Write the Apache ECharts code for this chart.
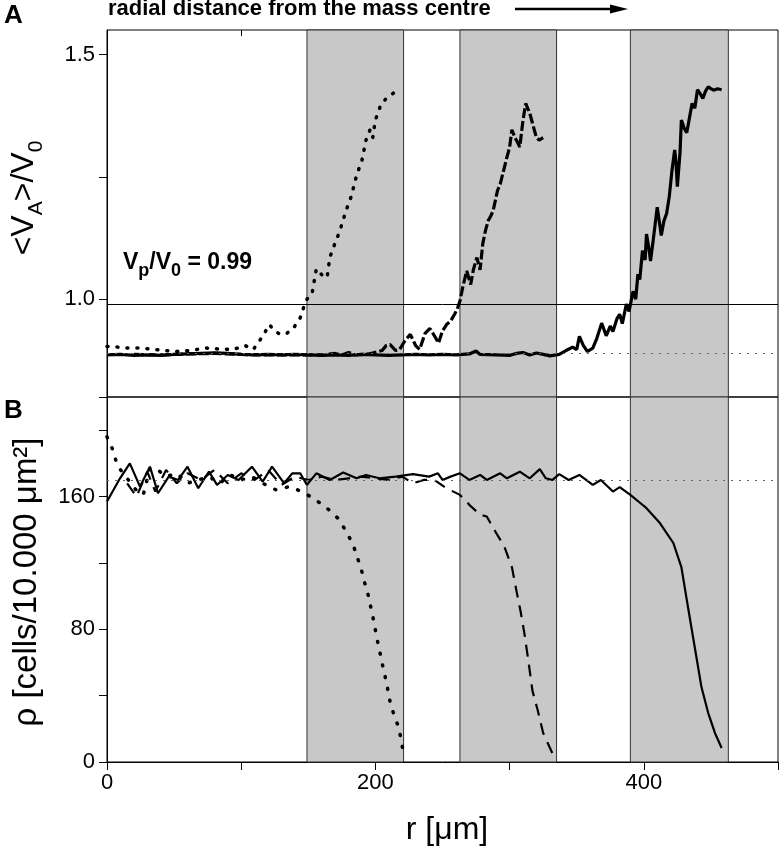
<!DOCTYPE html>
<html>
<head>
<meta charset="utf-8">
<script src="https://cdn.jsdelivr.net/npm/echarts@6/dist/echarts.min.js"></script>
<style>
html,body{margin:0;padding:0;background:#fff;}
#chart{width:782px;height:853px;}
</style>
</head>
<body>
<div id="chart"></div>
<script>
// ---- data (r in µm) ----
const bands = [[149, 221], [263, 335], [390, 463]];
const vpRatio = 0.99;          // Vp/V0 line in panel A
const vBaseline = 0.888;       // dotted reference in panel A
const rhoRef = 170;            // dotted reference in panel B

const xTicks = [0, 100, 200, 300, 400, 500];
const xLabels = [0, 200, 400];
const aTicks = [1.0, 1.25, 1.5];
const aLabels = [1.0, 1.5];
const bLabels = [0, 80, 160];

// Panel A : <V_A>/V0
const vSolid = [[0,0.886],[10,0.887],[20,0.885],[30,0.886],[40,0.885],[50,0.887],[60,0.888],[70,0.889],[80,0.890],[90,0.889],[100,0.887],[110,0.886],[120,0.887],[130,0.886],[140,0.887],[150,0.886],[160,0.885],[170,0.886],[180,0.885],[190,0.887],[200,0.886],[210,0.885],[220,0.886],[230,0.887],[240,0.886],[250,0.887],[260,0.886],[270,0.888],[275,0.894],[278,0.887],[290,0.886],[300,0.885],[305,0.889],[310,0.891],[315,0.886],[320,0.890],[325,0.887],[330,0.884],[337,0.887],[342,0.895],[347,0.902],[350,0.897],[352,0.924],[355,0.905],[358,0.893],[362,0.90],[365,0.92],[368.6,0.951],[372,0.925],[375,0.945],[377,0.934],[380,0.96],[382,0.969],[384,0.95],[387,0.99],[389,0.975],[392,1.016],[394,1.0],[395.6,1.051],[397,1.04],[399,1.099],[401,1.08],[402,1.133],[404,1.1],[405,1.078],[407,1.12],[410,1.188],[412,1.15],[413,1.13],[415,1.16],[417,1.175],[419,1.21],[421,1.263],[423,1.305],[424,1.28],[425,1.23],[427,1.30],[428,1.366],[430,1.35],[432,1.34],[434,1.37],[436,1.40],[438,1.39],[440,1.428],[442,1.42],[444,1.41],[446,1.425],[448,1.434],[450,1.43],[452,1.427],[455,1.43],[458,1.428]];
const vDashed = [[20,0.887],[40,0.886],[60,0.888],[80,0.889],[100,0.887],[120,0.886],[140,0.886],[160,0.886],[170,0.889],[175,0.886],[180,0.891],[185,0.886],[195,0.888],[205,0.895],[208,0.905],[211,0.907],[215,0.895],[218,0.897],[222,0.915],[226,0.928],[230,0.905],[233,0.897],[237,0.93],[240.6,0.94],[244,0.925],[247,0.91],[250,0.935],[253,0.948],[256,0.955],[259,0.969],[261,0.98],[263,0.996],[265,1.023],[268,1.058],[271,1.03],[273,1.06],[275.6,1.085],[278,1.06],[280,1.113],[282,1.14],[284,1.16],[286,1.17],[287.7,1.18],[291,1.222],[293,1.235],[295,1.257],[298,1.29],[300,1.31],[301.7,1.346],[304,1.33],[306,1.32],[307.6,1.311],[310,1.366],[312,1.40],[315,1.38],[317,1.36],[320,1.33],[322,1.325],[325,1.33]];
const vDotted = [[0,0.903],[5,0.903],[14,0.90],[24,0.90],[33,0.898],[43,0.895],[51,0.893],[62,0.895],[74,0.90],[84,0.898],[94,0.897],[103,0.905],[109,0.897],[116,0.924],[121,0.948],[125,0.935],[129,0.928],[134,0.93],[139,0.941],[144,0.962],[146,0.979],[149,1.0],[152.7,1.01],[156,1.062],[160,1.05],[164,1.044],[166,1.085],[170,1.115],[173.6,1.14],[178,1.18],[182,1.21],[186,1.253],[190,1.284],[193,1.325],[196,1.346],[198,1.33],[200,1.366],[204,1.397],[208,1.41],[213,1.42],[218,1.432]];

// Panel B : density rho
const rhoSolid = [[0,157],[9.7,171],[17,180],[24.6,166],[32,178],[38,162],[46,172],[53,170],[60,178],[68,165],[76,175],[82,167],[90,173],[98,170],[108,178],[116,169],[123,178],[132,168],[138,174],[144,174],[149,167],[156,174],[166,170],[176,174.5],[186,171],[193,173],[203,171],[215,172],[228,173.5],[240,172],[246.6,174],[250,170],[256,172],[263,174],[270,170],[278,173],[283,170],[293,174],[298,171],[307.6,175],[315,171],[322.5,176.5],[327,171],[332,170],[337,173.5],[344,170],[352,173],[362,167],[368,170],[377,163],[382,165.7],[390,161],[396,157],[402,153],[412,144],[422,132],[428,117.5],[433,93],[438,69],[443,45],[448,29.5],[453,17.5],[458,8.4]];
const rhoDashed = [[15,168],[22,160],[30,175],[36,163],[44,176],[52,168],[60,174],[70,170],[80,176],[90,168],[100,174],[110,170],[120,176],[130,167],[140,172],[150,170],[160,172],[170,170],[180,171],[190,172],[200,171],[210,170],[220,172],[228,168],[236,170],[244,170],[253,165],[263,161],[270,155],[278,149],[283,148],[290,138],[296,130],[301.7,117.5],[305,103.6],[308,91.6],[311,77.6],[314,61],[317,43],[321,31],[325,17.5],[332,5]];
const rhoDotted = [[0,196],[5,187],[7.4,179],[14,172],[21.6,164],[27,161],[32,177],[38,176],[44,172],[52,174],[60,168],[68,170],[76,172],[84,168],[92,173],[100,170],[108,172],[116,168],[126,164],[136,166],[145,163],[153.7,159],[164,153],[172,147],[178.6,138.6],[183.5,130.7],[186.5,123.5],[190,114.5],[192,108],[195,99.5],[197,91.6],[199,84],[201,75],[203,67.5],[205,59.6],[207,52.4],[209,44.6],[211,36],[214,28],[217.5,20.5],[221,5]];

// ---- chart ----
const FONT = "'Liberation Sans', Arial, Helvetica, sans-serif";
const chart = echarts.init(document.getElementById('chart'), null, {renderer: 'canvas'});

function bandArea() {
  return {
    silent: true,
    itemStyle: {color: '#c8c8c8', borderColor: '#333', borderWidth: 1},
    data: bands.map(b => [{xAxis: b[0]}, {xAxis: b[1]}])
  };
}
function refLine(y, type, color) {
  return {
    silent: true, symbol: 'none', label: {show: false},
    lineStyle: {color: color, width: 1, type: type},
    data: [{yAxis: y}]
  };
}
const xCommon = {type: 'value', min: 0, max: 500, interval: 100, splitLine: {show: false}};

const option = {
  animation: false,
  backgroundColor: '#fff',
  grid: [
    {left: 107, right: 4, top: 30, height: 367, show: true, borderColor: '#000', borderWidth: 1},
    {left: 107, right: 4, top: 397, height: 365, show: true, borderColor: '#000', borderWidth: 1}
  ],
  xAxis: [
    Object.assign({}, xCommon, {gridIndex: 0, position: 'bottom', axisLine: {show: false}, axisTick: {show: false}, axisLabel: {show: false}}),
    Object.assign({}, xCommon, {gridIndex: 0, position: 'top', axisLine: {show: false},
      axisTick: {show: true, inside: true, length: 6, lineStyle: {color: '#000'}, customValues: xTicks.slice(1, 5)}, axisLabel: {show: false}}),
    Object.assign({}, xCommon, {gridIndex: 1, position: 'bottom', axisLine: {show: true, onZero: false, lineStyle: {color: '#000', width: 1}},
      axisTick: {show: true, inside: false, length: 8, lineStyle: {color: '#000'}, customValues: xTicks},
      axisLabel: {show: true, customValues: xLabels, color: '#000', fontSize: 22, fontFamily: FONT, margin: 10, formatter: v => String(v)}}),
    Object.assign({}, xCommon, {gridIndex: 1, position: 'top', axisLine: {show: false},
      axisTick: {show: true, inside: true, length: 7, lineStyle: {color: '#000'}, customValues: xTicks.slice(1, 5)}, axisLabel: {show: false}})
  ],
  yAxis: [
    {type: 'value', gridIndex: 0, min: 0.8, max: 1.55, splitLine: {show: false},
      axisLine: {show: true, onZero: false, lineStyle: {color: '#000'}},
      axisTick: {show: true, length: 8, lineStyle: {color: '#000'}, customValues: aTicks},
      axisLabel: {show: true, customValues: aLabels, color: '#000', fontSize: 22, fontFamily: FONT, margin: 12, formatter: v => v.toFixed(1)}},
    {type: 'value', gridIndex: 1, min: 0, max: 220, interval: 40, splitLine: {show: false},
      axisLine: {show: true, onZero: false, lineStyle: {color: '#000'}},
      axisTick: {show: true, length: 8, lineStyle: {color: '#000'}},
      axisLabel: {show: true, customValues: bLabels, color: '#000', fontSize: 22, fontFamily: FONT, margin: 12, formatter: v => String(v)}}
  ],
  series: [
    {type: 'line', xAxisIndex: 0, yAxisIndex: 0, data: [], z: 1, markArea: bandArea(),
      markLine: {silent: true, symbol: 'none', label: {show: false}, data: [
        {yAxis: vpRatio, lineStyle: {color: '#000', width: 1, type: 'solid'}},
        {yAxis: vBaseline, lineStyle: {color: '#666', width: 1, type: [2, 6]}}
      ]}},
    {type: 'line', xAxisIndex: 2, yAxisIndex: 1, data: [], z: 1, markArea: bandArea(),
      markLine: refLine(rhoRef, [2, 6], '#666')},
    {name: 'vDotted', type: 'line', xAxisIndex: 0, yAxisIndex: 0, data: vDotted, showSymbol: false, z: 3,
      lineStyle: {color: '#000', width: 3.5, type: [1, 9], cap: 'round'}},
    {name: 'vDashed', type: 'line', xAxisIndex: 0, yAxisIndex: 0, data: vDashed, showSymbol: false, z: 3,
      lineStyle: {color: '#000', width: 3.2, type: [10, 3]}},
    {name: 'vSolid', type: 'line', xAxisIndex: 0, yAxisIndex: 0, data: vSolid, showSymbol: false, z: 4,
      lineStyle: {color: '#000', width: 3.2}},
    {name: 'rhoDotted', type: 'line', xAxisIndex: 2, yAxisIndex: 1, data: rhoDotted, showSymbol: false, z: 3,
      lineStyle: {color: '#000', width: 3.5, type: [1, 11], cap: 'round'}},
    {name: 'rhoDashed', type: 'line', xAxisIndex: 2, yAxisIndex: 1, data: rhoDashed, showSymbol: false, z: 3,
      lineStyle: {color: '#000', width: 2.2, type: [12, 8]}},
    {name: 'rhoSolid', type: 'line', xAxisIndex: 2, yAxisIndex: 1, data: rhoSolid, showSymbol: false, z: 4,
      lineStyle: {color: '#000', width: 2.2}}
  ],
  graphic: [
    {type: 'text', left: 4, top: 3, style: {text: 'A', font: 'bold 26px ' + FONT, fill: '#000'}},
    {type: 'text', left: 4, top: 398, style: {text: 'B', font: 'bold 26px ' + FONT, fill: '#000'}},
    {type: 'text', left: 108, top: -2, style: {text: 'radial distance from the mass centre', font: 'bold 22px ' + FONT, fill: '#000'}},
    {type: 'polyline', shape: {points: [[515, 9], [614, 9]]}, style: {stroke: '#000', lineWidth: 2.5}},
    {type: 'polygon', shape: {points: [[610, 4.5], [628, 9], [610, 13.5]]}, style: {fill: '#000'}},
    {type: 'text', x: 24, y: 198, rotation: Math.PI / 2,
      style: {text: '{m|<V}{s|A}{m|>/V}{s|0}', x: 0, y: 0, align: 'center', verticalAlign: 'middle',
        textAlign: 'center', textVerticalAlign: 'middle', fill: '#000',
        rich: {m: {fontSize: 32, fontFamily: FONT, lineHeight: 46, verticalAlign: 'middle'},
               s: {fontSize: 21, fontFamily: FONT, lineHeight: 22, verticalAlign: 'bottom'}}}},
    {type: 'text', x: 27, y: 582, rotation: Math.PI / 2,
      style: {text: 'ρ [cells/10.000 μm²]', x: 0, y: 0, align: 'center', verticalAlign: 'middle',
        textAlign: 'center', textVerticalAlign: 'middle', fill: '#000', font: '33px ' + FONT}},
    {type: 'text', x: 447, y: 830,
      style: {text: 'r [μm]', x: 0, y: 0, align: 'center', verticalAlign: 'middle',
        textAlign: 'center', textVerticalAlign: 'middle', fill: '#000', font: '32px ' + FONT}},
    {type: 'text', x: 123, y: 263,
      style: {text: '{m|V}{s|p}{m|/V}{s|0}{m| = 0.99}', x: 0, y: 0, align: 'left', verticalAlign: 'middle',
        textAlign: 'left', textVerticalAlign: 'middle', fill: '#000',
        rich: {m: {fontSize: 23, fontWeight: 'bold', fontFamily: FONT, lineHeight: 34, verticalAlign: 'middle'},
               s: {fontSize: 18, fontWeight: 'bold', fontFamily: FONT, lineHeight: 17, verticalAlign: 'bottom'}}}}
  ]
};
chart.setOption(option);
</script>
</body>
</html>
